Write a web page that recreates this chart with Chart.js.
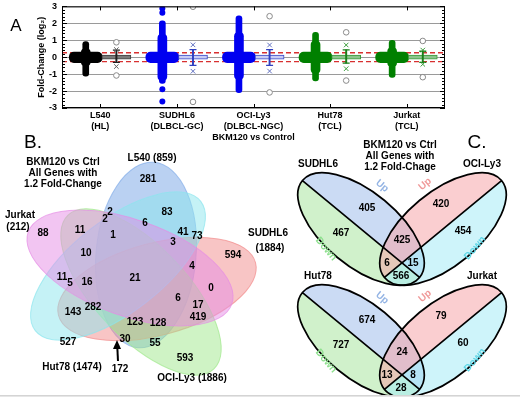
<!DOCTYPE html>
<html>
<head>
<meta charset="utf-8">
<script src="https://cdn.jsdelivr.net/npm/chart.js@4.4.1/dist/chart.umd.min.js"></script>
<style>
  html, body { margin: 0; padding: 0; background: #fff; }
  #wrap { position: relative; width: 520px; height: 397px; overflow: hidden; }
  #chartA { position: absolute; left: 0; top: -4px; }
  #chartBC { position: absolute; left: 0; top: 130px; }
  #foot { position: absolute; left: 0; top: 395px; width: 520px; height: 2px; background: #e6e6e6; border-top: 1px solid #d4d4d4; }
</style>
</head>
<body>
<div id="wrap">
  <canvas id="chartA" width="520" height="149"></canvas>
  <canvas id="chartBC" width="520" height="267"></canvas>
  <div id="foot"></div>
</div>
<script>
const FONT = "'Liberation Sans', Arial, sans-serif";

// ---------- panel A data (log2 fold-change) ----------
const cellLines = ['L540', 'SUDHL6', 'OCI-Ly3', 'Hut78', 'Jurkat'];
const subtypes = ['(HL)', '(DLBCL-GC)', '(DLBCL-NGC)', '(TCL)', '(TCL)'];
// gene cloud: dense core, wider spread, thin tail
const coreLo = [-0.32, -0.32, -0.32, -0.32, -0.32];
const coreHi = [0.3, 0.3, 0.3, 0.3, 0.3];
const spreadLo = [-0.5, -1.35, -1.3, -0.95, -0.55];
const spreadHi = [0.5, 1.35, 1.45, 0.95, 0.55];
const tailLo = [-1.12, -1.55, -2.1, -1.4, -1.2];
const tailHi = [0.92, 2.15, 2.45, 1.47, 1.0];
const sudhl6Stray = [2.88, 2.62, -1.9, -2.62];
// box summaries
const boxLo = [-0.12, -0.12, -0.12, -0.12, -0.12];
const boxHi = [0.12, 0.12, 0.12, 0.12, 0.12];
const whiskLo = [-0.3, -0.48, -0.48, -0.35, -0.3];
const whiskHi = [0.42, 0.45, 0.45, 0.43, 0.35];
const pctLo = [-0.55, -0.83, -0.82, -0.68, -0.42];
const pctHi = [0.45, 0.73, 0.72, 0.72, 0.42];
const minVal = [-1.08, -2.64, -2.08, -1.38, -1.18];
const maxVal = [0.88, 2.98, 2.42, 1.47, 0.96];
const foldCut = 0.263; // log2(1.2)

// styles
const dotColor = ['#000000', '#0000f0', '#0000f0', '#008000', '#008000'];
const boxFill = ['#7a7a7a', '#c8ccf4', '#c8ccf4', '#8cc48c', '#8cc48c'];
const boxEdge = ['#404040', '#3a48c8', '#3a48c8', '#3a9a3a', '#3a9a3a'];
const whiskColor = ['#202020', '#3040c0', '#3040c0', '#1a801a', '#1a801a'];
const pctColor = ['#606060', '#6070c0', '#6070c0', '#40a040', '#40a040'];
const DOT = -0.19, BOX = 0.21;

function bars(lo, hi, off) {
  return cellLines.map((_, i) => ({ x: i + 1 + off, y: [lo[i], hi[i]] }));
}
function pts(vals, off) {
  return cellLines.map((_, i) => ({ x: i + 1 + off, y: vals[i] }));
}

const frameA = {
  id: 'frameA',
  afterDraw(chart) {
    const { ctx, chartArea: a, scales: { x, y } } = chart;
    ctx.save();
    ctx.strokeStyle = '#000';
    ctx.lineWidth = 1;
    ctx.strokeRect(a.left + 0.5, a.top + 0.5, a.width - 1, a.height - 1);
    ctx.beginPath();
    for (let k = -15; k <= 15; k++) {
      const py = Math.round(y.getPixelForValue(k / 5)) + 0.5;
      const len = k % 5 === 0 ? 5 : 3;
      ctx.moveTo(a.left, py); ctx.lineTo(a.left + len, py);
      ctx.moveTo(a.right, py); ctx.lineTo(a.right - len, py);
    }
    cellLines.forEach((_, i) => {
      const px = Math.round(x.getPixelForValue(i + 1)) + 0.5;
      ctx.moveTo(px, a.top); ctx.lineTo(px, a.top + 4);
      ctx.moveTo(px, a.bottom); ctx.lineTo(px, a.bottom - 4);
    });
    ctx.stroke();
    ctx.fillStyle = '#000';
    ctx.font = '17px ' + FONT;
    ctx.textAlign = 'center';
    ctx.textBaseline = 'middle';
    ctx.fillText('A', 16, 30);
    ctx.restore();
  }
};

new Chart(document.getElementById('chartA'), {
  type: 'bar',
  data: {
    datasets: [
      { type: 'line', data: [{ x: 0.5, y: foldCut }, { x: 5.5, y: foldCut }], borderColor: '#d83030',
        borderDash: [5, 3], borderWidth: 1.3, pointRadius: 0, order: 20 },
      { type: 'line', data: [{ x: 0.5, y: -foldCut }, { x: 5.5, y: -foldCut }], borderColor: '#d83030',
        borderDash: [5, 3], borderWidth: 1.3, pointRadius: 0, order: 20 },
      { data: bars(coreLo, coreHi, DOT), backgroundColor: dotColor, barThickness: 33,
        borderRadius: 5, borderSkipped: false, grouped: false, order: 12 },
      { data: bars(spreadLo, spreadHi, DOT), backgroundColor: dotColor, barThickness: 9,
        borderRadius: 4, borderSkipped: false, grouped: false, order: 12 },
      { data: bars(tailLo, tailHi, DOT), backgroundColor: dotColor, barThickness: 6,
        borderRadius: 3, borderSkipped: false, grouped: false, order: 12 },
      { type: 'scatter', data: sudhl6Stray.map(v => ({ x: 2 + DOT, y: v })), pointRadius: 3,
        pointBackgroundColor: dotColor[1], pointBorderWidth: 0, order: 11 },
      { data: bars(boxLo, boxHi, BOX), backgroundColor: boxFill, borderColor: boxEdge, borderWidth: 1,
        barThickness: 29, borderSkipped: false, grouped: false, order: 8 },
      { data: bars(whiskLo, whiskHi, BOX), backgroundColor: whiskColor, barThickness: 1.3,
        grouped: false, order: 7 },
      { type: 'scatter', data: pts(whiskLo, BOX), pointStyle: 'line', pointRadius: 3.5,
        pointBorderColor: whiskColor, pointBorderWidth: 1.3, order: 6 },
      { type: 'scatter', data: pts(whiskHi, BOX), pointStyle: 'line', pointRadius: 3.5,
        pointBorderColor: whiskColor, pointBorderWidth: 1.3, order: 6 },
      { type: 'scatter', data: pts(pctLo, BOX).concat(pts(pctHi, BOX)), pointStyle: 'crossRot',
        pointRadius: 3.2, pointBorderColor: pctColor.concat(pctColor), pointBorderWidth: 1, order: 5 },
      { type: 'scatter', data: pts(minVal, BOX).concat(pts(maxVal, BOX)), pointStyle: 'circle',
        pointRadius: 2.8, pointBackgroundColor: '#fff', pointBorderColor: '#8a8a8a',
        pointBorderWidth: 1, order: 5 }
    ]
  },
  options: {
    responsive: false,
    animation: false,
    layout: { padding: { left: 36, right: 75, top: 0, bottom: 0 }, autoPadding: false },
    plugins: { legend: { display: false }, tooltip: { enabled: false } },
    scales: {
      x: {
        type: 'linear', min: 0.5, max: 5.5, offset: false,
        grid: { display: false, offset: false, drawTicks: false }, border: { display: false },
        afterBuildTicks: s => { s.ticks = cellLines.map((_, i) => ({ value: i + 1 })); },
        afterFit: s => { s.height = 37; },
        ticks: {
          autoSkip: false, maxRotation: 0, padding: 2, color: '#000',
          font: { family: FONT, size: 9, weight: 'bold', lineHeight: 1.2 },
          callback: (v, i) => [cellLines[i], subtypes[i]]
        },
        title: { display: true, text: 'BKM120 vs Control', color: '#000', padding: { top: 0, bottom: 2 },
          font: { family: FONT, size: 9, weight: 'bold' } }
      },
      y: {
        min: -3, max: 3,
        afterFit: s => { s.width = 26; },
        grid: { color: '#9a9a9a', drawTicks: false }, border: { display: false },
        ticks: { stepSize: 1, padding: 5, color: '#000', font: { family: FONT, size: 9, weight: 'bold' } },
        title: { display: true, text: 'Fold-Change (log₂)', color: '#000', padding: 0,
          font: { family: FONT, size: 9, weight: 'bold' } }
      }
    }
  },
  plugins: [frameA]
});

// ---------- panel B data: five-set Venn ----------
const setNames = ['L540', 'SUDHL6', 'OCI-Ly3', 'Hut78', 'Jurkat'];
const setSizes = [859, 1884, 1886, 1474, 212];
const vennCounts = [281, 83, 2, 2, 6, 11, 1, 41, 73, 3, 88, 10, 594, 4, 11, 5, 16, 21, 0, 6,
  17, 419, 143, 282, 123, 128, 527, 30, 55, 593, 172];
// ---------- panel C data: up/down split Venns ----------
const pairTop = ['SUDHL6', 'OCI-Ly3'];
const pairBottom = ['Hut78', 'Jurkat'];
// left up, left down, right up, right down, up/up, leftDown-rightUp, leftUp-rightDown, down/down
const topCounts = [405, 467, 420, 454, 425, 6, 15, 566];
const bottomCounts = [674, 727, 79, 60, 24, 13, 8, 28];

// layout (page pixels)
const bCountPos = [[148, 179], [167, 212], [110, 212], [105, 219], [145, 223], [80, 230], [113, 235],
  [183, 232], [197, 236], [173, 242], [43, 233], [86, 253], [233, 255], [192, 266], [62, 277],
  [70, 283], [87, 282], [135, 278], [211, 288], [178, 298], [198, 305], [198, 317], [73, 312],
  [93, 307], [135, 322], [158, 323], [68, 342], [125, 339], [155, 343], [185, 358], [120, 369]];
const bEllipses = [
  { cx: 146, cy: 255, a: 93, b: 50, rot: 95, fill: 'rgba(130,172,232,0.55)' },
  { cx: 157, cy: 289, a: 102, b: 46, rot: 165, fill: 'rgba(242,140,140,0.5)' },
  { cx: 141, cy: 292, a: 106, b: 46, rot: 46.5, fill: 'rgba(160,232,140,0.5)' },
  { cx: 118, cy: 266, a: 105, b: 46, rot: -38, fill: 'rgba(140,230,238,0.5)' },
  { cx: 130, cy: 268, a: 108, b: 48, rot: 19.5, fill: 'rgba(230,140,230,0.5)' }
];
const bSetPos = [[[152, 158]], [[268, 233], [270, 248]], [[192, 378]], [[72, 367]], [[20, 215], [18, 227]]];
const cCenters = [[402, 229], [402, 341]];
const cShift = 41, cA = 76, cB = 37, cRot = 39.6;
const cCountOff = [[-35, -21], [-61, 4], [39, -25], [61, 2], [0, 11], [-15, 34], [11, 34], [-1, 47]];
const cNameOff = [[-84, -65], [80, -65]];

function textPoint(x, y, v, extra) { return Object.assign({ x, y, v }, extra || {}); }

const bcTexts = [];
vennCounts.forEach((v, i) => bcTexts.push(textPoint(bCountPos[i][0], bCountPos[i][1], String(v))));
setNames.forEach((n, i) => {
  const p = bSetPos[i];
  if (p.length === 1) bcTexts.push(textPoint(p[0][0], p[0][1], n + ' (' + setSizes[i] + ')'));
  else {
    bcTexts.push(textPoint(p[0][0], p[0][1], n));
    bcTexts.push(textPoint(p[1][0], p[1][1], '(' + setSizes[i] + ')'));
  }
});
['BKM120 vs Ctrl', 'All Genes with', '1.2 Fold-Change'].forEach((t, i) => bcTexts.push(textPoint(63, 162 + i * 11, t)));
['BKM120 vs Ctrl', 'All Genes with', '1.2 Fold-Chage'].forEach((t, i) => bcTexts.push(textPoint(400, 145 + i * 11, t)));
[[pairTop, topCounts], [pairBottom, bottomCounts]].forEach(([pair, counts], k) => {
  const [ox, oy] = cCenters[k];
  counts.forEach((v, i) => bcTexts.push(textPoint(ox + cCountOff[i][0], oy + cCountOff[i][1], String(v))));
  pair.forEach((n, i) => bcTexts.push(textPoint(ox + cNameOff[i][0], oy + cNameOff[i][1], n)));
});
const upDown = [];
cCenters.forEach(([ox, oy]) => {
  upDown.push(textPoint(ox - 20, oy - 43, 'Up', { rot: 40, color: '#94b4e4' }));
  upDown.push(textPoint(ox + 23, oy - 45, 'Up', { rot: -40, color: '#f09a9a' }));
  upDown.push(textPoint(ox - 76, oy + 20, 'Down', { rot: 50, color: '#8ee08e' }));
  upDown.push(textPoint(ox + 73, oy + 19, 'Down', { rot: -50, color: '#5cd6e6' }));
});
const panelTags = [textPoint(33, 143, 'B.', { big: true }), textPoint(477, 143, 'C.', { big: true })];

const vennPlugin = {
  id: 'venn',
  beforeDatasetsDraw(chart) {
    const { ctx, scales: { x, y } } = chart;
    const px = v => x.getPixelForValue(v), py = v => y.getPixelForValue(v);
    const s = px(1) - px(0);
    ctx.save();
    // five-set Venn
    bEllipses.forEach(e => {
      ctx.save();
      ctx.translate(px(e.cx), py(e.cy));
      ctx.rotate(e.rot * Math.PI / 180);
      ctx.beginPath();
      ctx.ellipse(0, 0, e.a * s, e.b * s, 0, 0, Math.PI * 2);
      ctx.fillStyle = e.fill;
      ctx.fill();
      ctx.strokeStyle = e.fill.replace(/[\d.]+\)$/, '0.7)');
      ctx.lineWidth = 1;
      ctx.stroke();
      ctx.restore();
    });
    // arrow to the 172 region
    ctx.strokeStyle = '#000'; ctx.fillStyle = '#000'; ctx.lineWidth = 2;
    ctx.beginPath(); ctx.moveTo(px(118), py(361)); ctx.lineTo(px(117.3), py(347)); ctx.stroke();
    ctx.beginPath(); ctx.moveTo(px(117), py(340)); ctx.lineTo(px(113), py(349)); ctx.lineTo(px(121), py(349));
    ctx.closePath(); ctx.fill();
    // split Venns
    const halves = [['rgba(160,190,235,0.55)', 'rgba(170,230,160,0.55)'], ['rgba(165,235,245,0.55)', 'rgba(245,165,170,0.55)']];
    cCenters.forEach(([ox, oy]) => {
      [-1, 1].forEach((side, j) => {
        const rot = (side < 0 ? cRot : 180 - cRot) * Math.PI / 180;
        ctx.save();
        ctx.translate(px(ox + side * cShift), py(oy));
        ctx.rotate(rot);
        ctx.beginPath();
        ctx.ellipse(0, 0, cA * s, cB * s, 0, 0, Math.PI * 2);
        ctx.clip();
        ctx.fillStyle = halves[j][0];
        ctx.fillRect(-cA * s, -cB * s, 2 * cA * s, cB * s);
        ctx.fillStyle = halves[j][1];
        ctx.fillRect(-cA * s, 0, 2 * cA * s, cB * s);
        ctx.restore();
      });
      [-1, 1].forEach(side => {
        const rot = (side < 0 ? cRot : 180 - cRot) * Math.PI / 180;
        ctx.save();
        ctx.translate(px(ox + side * cShift), py(oy));
        ctx.rotate(rot);
        ctx.strokeStyle = '#000';
        ctx.lineWidth = 1.7;
        ctx.beginPath();
        ctx.ellipse(0, 0, cA * s, cB * s, 0, 0, Math.PI * 2);
        ctx.moveTo(-cA * s, 0); ctx.lineTo(cA * s, 0);
        ctx.stroke();
        ctx.restore();
      });
    });
    ctx.restore();
  },
  afterDatasetsDraw(chart) {
    const { ctx } = chart;
    ctx.save();
    ctx.textAlign = 'center';
    ctx.textBaseline = 'middle';
    chart.data.datasets.forEach((ds, di) => {
      const meta = chart.getDatasetMeta(di);
      meta.data.forEach((el, i) => {
        const d = ds.data[i];
        ctx.save();
        ctx.translate(el.x, el.y);
        if (d.rot) ctx.rotate(d.rot * Math.PI / 180);
        ctx.fillStyle = d.color || '#000';
        ctx.font = d.big ? '19px ' + FONT : 'bold 10px ' + FONT;
        ctx.fillText(d.v, 0, 0);
        ctx.restore();
      });
    });
    ctx.restore();
  }
};

new Chart(document.getElementById('chartBC'), {
  type: 'scatter',
  data: {
    datasets: [
      { data: bcTexts, pointRadius: 0 },
      { data: upDown, pointRadius: 0 },
      { data: panelTags, pointRadius: 0 }
    ]
  },
  options: {
    responsive: false,
    animation: false,
    layout: { padding: 0, autoPadding: false },
    plugins: { legend: { display: false }, tooltip: { enabled: false } },
    scales: {
      x: { type: 'linear', min: 0, max: 520, display: false },
      y: { type: 'linear', min: 130, max: 397, reverse: true, display: false }
    }
  },
  plugins: [vennPlugin]
});
</script>
</body>
</html>
